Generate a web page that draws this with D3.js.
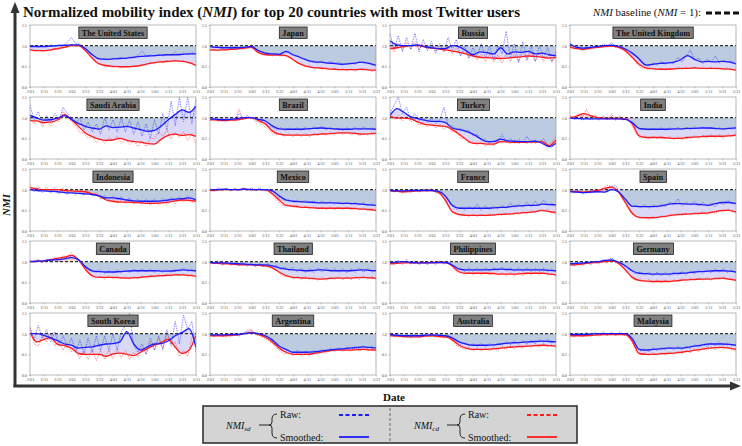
<!DOCTYPE html>
<html><head><meta charset="utf-8">
<script src="https://cdn.jsdelivr.net/npm/d3@7"></script>
<style>body{margin:0;background:#fff}</style>
</head><body><svg id="c" width="742" height="446"></svg>
<script>
const countries = ["The United States","Japan","Russia","The United Kingdom","Saudi Arabia","Brazil","Turkey","India","Indonesia","Mexico","France","Spain","Canada","Thailand","Philippines","Germany","South Korea","Argentina","Australia","Malaysia"];
const dateTicks = ["2/01","2/11","2/21","3/02","3/12","3/22","4/01","4/11","4/21","5/01","5/11","5/21","5/31"];
const tickDays = [0,10,20,30,40,50,60,70,80,90,100,110,120];
const yTicks = [0,0.5,1,1.5];
const smoothDays = [0,5,10,15,20,25,30,35,40,45,50,55,60,65,70,75,80,85,90,95,100,105,110,115,120];
const rawDays = [0,3,6,9,12,15,18,21,24,27,30,33,36,39,42,45,48,51,54,57,60,63,66,69,72,75,78,81,84,87,90,93,96,99,102,105,108,111,114,117,120];

const sdSmooth = [
[.98,.98,.98,.99,1.0,1.01,1.02,1.02,.93,.78,.68,.67,.68,.69,.70,.72,.74,.75,.76,.77,.78,.78,.79,.80,.80],
[.97,.96,.95,.95,.95,.96,.98,.88,.82,.80,.79,.86,.78,.72,.65,.61,.60,.58,.57,.55,.56,.58,.60,.57,.53],
[1.12,1.02,1.0,1.0,1.02,.98,.95,.93,.93,1.0,.97,.88,.78,.85,.83,.8,.95,.8,.85,.84,.86,.8,.82,.78,.76],
[1.04,.96,.94,.96,.98,1.0,1.01,.98,.92,.82,.68,.53,.55,.57,.58,.60,.66,.76,.67,.61,.62,.61,.62,.61,.56],
[1.06,.99,.94,.95,.99,1.05,.96,.86,.79,.75,.72,.8,.76,.77,.79,.75,.71,.67,.69,.8,.95,1.08,1.19,1.13,1.28],
[.97,.96,.95,.96,.98,1.0,1.0,.96,.92,.8,.73,.72,.72,.72,.73,.74,.75,.74,.73,.72,.72,.73,.73,.73,.72],
[1.05,1.22,1.13,1.02,.98,.94,.91,.91,.88,.75,.71,.67,.6,.5,.42,.42,.48,.44,.43,.42,.42,.43,.38,.3,.38],
[.99,.98,.97,.97,.97,.97,.97,.97,.96,.88,.74,.72,.72,.72,.72,.73,.73,.74,.74,.75,.75,.74,.73,.74,.75],
[1.0,.98,.97,.96,.95,.93,.92,.91,.9,.88,.85,.8,.8,.78,.75,.73,.72,.72,.72,.73,.75,.77,.78,.8,.75],
[1.0,1.0,1.01,1.0,1.0,1.01,1.0,1.0,1.0,.97,.85,.75,.72,.71,.7,.69,.68,.68,.68,.67,.67,.66,.65,.63,.62],
[.98,.97,.97,.98,.98,.98,.98,.96,.85,.62,.55,.55,.55,.55,.55,.56,.57,.58,.6,.61,.62,.62,.65,.64,.63],
[.95,.94,.93,.94,.95,.94,1.0,.95,.77,.6,.59,.59,.59,.6,.64,.66,.66,.65,.65,.64,.62,.66,.69,.69,.66],
[1.0,1.01,1.02,1.04,1.05,1.07,1.1,1.05,.88,.78,.76,.75,.75,.76,.77,.78,.78,.78,.78,.77,.77,.78,.8,.79,.78],
[.98,.97,.97,.96,.95,.94,.93,.92,.92,.9,.85,.82,.8,.79,.78,.79,.8,.79,.78,.78,.78,.79,.8,.79,.78],
[.98,.99,1.0,.98,.97,.97,.97,.98,.98,.92,.82,.8,.8,.8,.8,.81,.82,.81,.8,.8,.8,.8,.8,.79,.78],
[.95,.96,.97,.99,1.0,1.03,1.04,.99,.9,.78,.72,.71,.7,.7,.7,.71,.72,.73,.75,.76,.77,.78,.78,.77,.75],
[1.0,1.0,.96,.9,.83,.75,.72,.65,.67,.68,.72,.75,.76,.8,1.05,.75,.6,.68,.75,.76,.83,.95,1.03,1.12,.67],
[.97,.97,.97,.98,.98,1.0,1.02,1.0,.95,.85,.7,.62,.55,.55,.55,.56,.58,.6,.62,.63,.65,.66,.68,.67,.65],
[.98,.96,.95,.95,.95,.96,.97,.96,.95,.9,.8,.75,.72,.72,.72,.73,.75,.77,.78,.79,.8,.81,.82,.81,.8],
[.98,.98,.98,.99,1.0,1.0,1.0,1.0,1.0,.88,.62,.6,.62,.63,.65,.65,.65,.67,.7,.72,.75,.75,.75,.74,.72]
];
const cdSmooth = [
[.90,.88,.88,.90,.93,.96,1.0,1.0,.88,.70,.56,.52,.50,.49,.49,.50,.52,.56,.59,.61,.62,.63,.62,.59,.52],
[.90,.89,.90,.91,.92,.94,.96,.83,.78,.77,.77,.76,.66,.56,.50,.47,.46,.44,.43,.42,.42,.42,.43,.41,.41],
[.93,.95,.98,1.0,1.0,.97,.94,.92,.90,.87,.84,.80,.75,.72,.71,.70,.69,.70,.72,.73,.75,.74,.72,.70,.71],
[.96,.93,.91,.94,.96,.98,.99,.96,.88,.72,.55,.46,.44,.43,.43,.44,.45,.45,.46,.45,.45,.45,.44,.43,.41],
[.93,.92,.88,.89,.95,1.07,.95,.79,.63,.54,.48,.45,.46,.5,.45,.42,.41,.37,.36,.48,.57,.6,.57,.59,.55],
[.95,.94,.93,.94,.95,.98,1.0,.93,.85,.68,.6,.58,.58,.58,.58,.59,.6,.61,.62,.63,.63,.62,.6,.61,.62],
[1.03,.99,.99,.97,.9,.84,.82,.8,.79,.71,.6,.47,.38,.38,.36,.36,.42,.41,.4,.4,.41,.41,.42,.32,.46],
[1.0,1.04,1.1,1.05,1.0,.98,.98,.98,.97,.85,.56,.52,.52,.52,.51,.5,.5,.52,.53,.54,.55,.55,.55,.56,.58],
[1.05,1.02,1.0,1.0,1.0,.98,.97,.96,.95,.9,.85,.75,.72,.7,.7,.69,.68,.67,.67,.68,.7,.73,.75,.74,.72],
[.98,.99,1.0,1.0,1.0,1.01,1.0,1.0,1.0,.9,.75,.62,.6,.58,.57,.56,.55,.55,.55,.55,.55,.54,.53,.52,.5],
[.97,.96,.95,.96,.97,.98,.98,.93,.75,.47,.4,.38,.38,.38,.38,.39,.4,.41,.42,.44,.45,.47,.5,.47,.45],
[.97,.95,.94,.96,.98,1.03,1.06,.95,.69,.43,.33,.32,.32,.34,.36,.39,.4,.41,.42,.43,.44,.47,.5,.5,.46],
[1.0,1.01,1.02,1.05,1.08,1.11,1.15,1.05,.82,.66,.62,.62,.62,.61,.6,.61,.62,.64,.65,.66,.67,.68,.68,.67,.65],
[.97,.96,.95,.94,.93,.92,.92,.91,.9,.85,.75,.66,.62,.61,.6,.59,.58,.59,.6,.6,.6,.61,.62,.61,.6],
[.95,.96,.97,.97,.97,.97,.98,.98,.98,.9,.75,.72,.72,.72,.72,.71,.7,.7,.7,.71,.72,.72,.72,.7,.68],
[.92,.93,.95,.97,.98,1.0,1.02,.96,.8,.62,.55,.53,.52,.52,.52,.53,.55,.56,.57,.58,.58,.59,.6,.58,.55],
[1.03,.8,.86,.9,.74,.71,.65,.52,.5,.5,.5,.45,.51,.53,.5,.47,.55,.64,.72,.79,.87,.67,.52,.6,.95],
[.95,.95,.95,.96,.97,1.0,1.03,.98,.92,.8,.65,.55,.5,.5,.5,.52,.55,.58,.6,.6,.6,.61,.62,.61,.6],
[.95,.94,.93,.92,.92,.94,.95,.93,.92,.85,.72,.65,.62,.62,.62,.63,.65,.67,.68,.69,.7,.71,.72,.71,.7],
[.95,.95,.95,.96,.97,.98,.98,.98,.98,.82,.52,.5,.5,.51,.52,.53,.55,.57,.6,.62,.65,.66,.67,.65,.62]
];
const sdRaw = [
[.97,1.0,.96,.99,.97,1.02,.98,1.03,.99,1.08,1.2,1.05,1.04,.93,.85,.8,.7,.66,.7,.65,.7,.67,.72,.68,.73,.7,.76,.88,.73,.78,.74,.8,.75,.79,.77,.85,.76,.82,.78,.83,.8],
[.99,.95,.97,.94,.96,.93,.97,.94,.97,.95,1.02,.9,.88,.82,.83,.79,.81,.78,.84,.83,.76,.75,.68,.69,.6,.64,.58,.63,.57,.62,.55,.6,.53,.57,.58,.55,.62,.57,.6,.53,.52],
[1.3,.9,1.25,.85,1.2,.9,1.3,.85,1.15,.88,1.1,.82,1.05,.85,1.2,.9,1.15,.75,1.0,.7,.95,.72,1.05,.7,1.0,.65,1.0,.8,1.35,.7,1.05,.6,1.1,.65,1.0,.62,1.0,.7,.95,.6,.85],
[1.08,.95,.98,.9,.97,.93,1.0,.95,1.05,.98,1.08,.96,1.0,.93,.9,.8,.73,.6,.55,.5,.58,.53,.62,.55,.6,.56,.72,.6,.75,.9,.65,.7,.57,.68,.6,.75,.58,.65,.6,.63,.55],
[1.3,.95,1.15,.85,1.05,.9,1.1,.95,1.25,1.1,1.0,.85,1.0,.7,.9,.65,.85,.6,1.0,.7,.95,.65,1.0,.65,.95,.6,.9,.55,.85,.5,.95,.6,1.1,.7,1.4,.8,1.5,.9,1.5,.85,1.45],
[.95,1.0,.94,.98,.93,.97,.95,1.1,.98,1.05,.97,1.0,.9,.88,.8,.76,.7,.76,.69,.75,.7,.76,.69,.77,.7,.78,.72,.8,.7,.77,.7,.75,.68,.76,.7,.77,.69,.78,.7,.76,.7],
[1.1,1.3,1.5,1.1,1.25,.95,1.1,.92,1.0,.88,.98,.85,.95,1.25,.8,.8,.7,.75,.65,.7,.55,.6,.45,.48,.38,.45,.4,.6,.42,.5,.38,.48,.4,.55,.38,.46,.4,.5,.32,.28,.42],
[1.02,.95,1.0,.94,.99,.95,1.0,.94,1.02,.96,1.03,.95,1.02,.94,.97,.85,.75,.7,.75,.69,.75,.7,.76,.69,.76,.7,.77,.7,.77,.71,.78,.72,.78,.72,.77,.71,.77,.7,.76,.71,.77],
[1.02,.95,1.03,.93,1.0,.92,.98,.9,.97,.88,.96,.87,.95,.86,.94,.85,.9,.78,.86,.75,.85,.74,.83,.72,.8,.68,.77,.67,.78,.66,.78,.68,.8,.7,.82,.72,.84,.73,.86,.72,.8],
[1.02,.97,1.05,.98,1.04,.97,1.03,.97,1.05,.98,1.04,.98,1.05,.97,1.0,.95,.85,.78,.73,.76,.7,.75,.69,.74,.68,.73,.67,.72,.66,.71,.65,.7,.65,.7,.64,.69,.64,.68,.62,.66,.6],
[1.0,.95,.99,.94,1.0,.95,1.01,.96,1.0,.97,1.02,.95,.97,.85,.75,.6,.52,.58,.5,.6,.52,.65,.5,.62,.52,.6,.53,.62,.55,.68,.56,.65,.58,.7,.59,.72,.6,.75,.62,.68,.6],
[.97,.92,.98,.9,.96,.92,.98,.93,.97,1.05,1.08,1.1,.9,.8,.66,.58,.62,.56,.64,.55,.63,.57,.65,.58,.7,.62,.78,.6,.7,.62,.72,.6,.7,.6,.68,.58,.7,.63,.75,.65,.68],
[1.02,.98,1.05,.98,1.06,.99,1.08,1.0,1.1,1.05,1.15,1.12,1.0,.9,.8,.76,.74,.8,.72,.79,.72,.8,.73,.8,.74,.82,.75,.82,.75,.81,.74,.8,.74,.8,.74,.82,.76,.84,.76,.82,.76],
[1.0,.95,1.02,.93,1.0,.92,1.0,.91,.99,.9,.98,.89,.97,.88,.96,.86,.92,.8,.88,.78,.86,.75,.84,.74,.83,.73,.84,.74,.85,.75,.84,.74,.83,.73,.83,.74,.84,.74,.85,.74,.8],
[1.02,.95,1.03,.96,1.05,.95,1.02,.93,1.0,.93,1.0,.93,1.02,.94,1.01,.9,.8,.85,.76,.85,.76,.85,.76,.86,.76,.86,.77,.88,.77,.86,.76,.85,.76,.85,.76,.84,.76,.84,.75,.83,.75],
[.97,.92,.99,.93,1.0,.95,1.02,.97,1.05,1.0,1.1,1.0,.95,.9,.82,.76,.7,.76,.67,.75,.66,.75,.66,.75,.66,.76,.67,.77,.68,.78,.7,.8,.72,.8,.73,.82,.74,.83,.74,.8,.72],
[1.15,.85,1.2,.9,1.1,.8,1.05,.7,.95,.65,.9,.55,.85,.5,.9,.55,.95,.6,.95,.6,1.0,.6,1.05,1.2,1.5,.7,.55,.75,.5,.9,.6,.95,.6,1.1,.7,1.3,.75,1.45,1.1,1.3,.55],
[1.0,.94,.99,.95,1.0,.95,1.0,.96,1.02,1.05,1.08,.98,.97,.92,.88,.82,.72,.62,.56,.6,.52,.6,.52,.58,.53,.6,.54,.62,.56,.64,.58,.66,.6,.68,.62,.69,.63,.7,.64,.7,.62],
[1.02,.94,1.0,.93,.98,.92,.98,.92,.99,.93,1.0,.93,1.0,.92,.98,.86,.8,.74,.78,.7,.76,.69,.76,.69,.76,.7,.77,.72,.8,.73,.82,.75,.83,.75,.84,.76,.85,.78,.86,.78,.82],
[1.02,.95,1.02,.95,1.03,.96,1.03,.97,1.05,.97,1.04,.97,1.04,.97,1.02,.85,.65,.58,.63,.56,.66,.58,.67,.6,.68,.61,.7,.61,.7,.63,.73,.66,.75,.68,.78,.7,.8,.71,.78,.7,.74]
];
const cdRaw = [
[.92,.86,.9,.85,.9,.87,.93,.9,.97,.96,1.03,.98,1.0,.9,.8,.68,.57,.56,.49,.53,.47,.51,.46,.5,.47,.52,.5,.55,.53,.6,.56,.63,.58,.64,.6,.66,.61,.64,.58,.6,.5],
[.88,.92,.87,.91,.88,.93,.9,.94,.91,.96,.95,.88,.82,.78,.8,.75,.79,.74,.78,.7,.68,.57,.56,.48,.52,.44,.48,.43,.47,.41,.46,.4,.44,.39,.44,.38,.43,.41,.44,.38,.4],
[.98,.85,1.05,.9,1.08,.92,1.1,.9,1.05,.9,1.02,.86,1.0,.85,.98,.8,.95,.76,.9,.7,.82,.65,.8,.62,.8,.6,.78,.58,.8,.62,.82,.6,.85,.65,.85,.62,.83,.62,.8,.62,.75],
[.98,.92,.94,.88,.94,.9,.97,.95,1.0,.97,1.01,.95,.96,.88,.8,.7,.58,.47,.44,.43,.46,.42,.45,.41,.46,.42,.47,.43,.48,.44,.49,.43,.47,.43,.48,.43,.47,.42,.46,.42,.4],
[.98,.85,1.0,.78,.92,.8,1.0,.9,1.15,1.0,.9,.8,.65,.62,.5,.55,.4,.5,.38,.52,.44,.55,.38,.48,.35,.46,.3,.42,.3,.5,.5,.65,.55,.7,.48,.65,.52,.66,.45,.62,.35],
[.93,.98,.9,.96,.91,.97,.92,1.2,.95,1.05,.98,.92,.88,.8,.72,.63,.58,.62,.55,.62,.54,.61,.55,.62,.54,.63,.56,.64,.57,.66,.58,.67,.6,.66,.58,.64,.56,.63,.58,.65,.6],
[1.1,.95,1.05,.92,1.02,.9,.95,.82,.88,.78,.86,.75,.85,.72,.8,.66,.68,.5,.5,.38,.42,.33,.42,.3,.4,.32,.45,.38,.47,.37,.45,.36,.44,.37,.46,.38,.45,.4,.35,.4,.55],
[1.05,.98,1.1,1.02,1.2,1.0,1.08,.95,1.05,.95,1.1,.93,1.05,.95,.98,.8,.6,.5,.56,.48,.55,.49,.56,.48,.55,.47,.54,.46,.55,.48,.57,.5,.58,.5,.59,.51,.58,.5,.6,.53,.6],
[1.1,1.0,1.08,.98,1.06,.97,1.05,.95,1.04,.94,1.02,.93,1.01,.92,1.0,.88,.92,.78,.8,.7,.77,.68,.75,.66,.74,.65,.73,.64,.72,.62,.71,.63,.72,.64,.74,.66,.77,.7,.78,.68,.76],
[1.0,.95,1.02,.97,1.03,.97,1.04,.97,1.05,.98,1.04,.97,1.02,.98,.96,.88,.75,.65,.6,.64,.57,.62,.55,.6,.54,.59,.53,.58,.52,.58,.52,.58,.52,.58,.52,.57,.51,.56,.5,.54,.48],
[.99,.94,.98,.92,.97,.93,.98,.94,1.0,.96,1.0,.93,.9,.78,.6,.45,.4,.36,.4,.35,.41,.35,.41,.36,.42,.36,.42,.38,.44,.38,.45,.4,.47,.42,.5,.44,.52,.48,.53,.44,.42],
[1.0,.93,.98,.92,.97,.92,1.0,.97,1.05,1.1,1.08,1.0,.88,.72,.55,.4,.35,.3,.34,.29,.35,.31,.37,.33,.4,.36,.43,.37,.44,.38,.45,.39,.46,.4,.48,.42,.5,.45,.54,.47,.44],
[1.03,.97,1.05,.98,1.06,1.0,1.1,1.05,1.15,1.1,1.22,1.08,.98,.85,.72,.63,.6,.65,.58,.66,.58,.65,.58,.64,.57,.64,.58,.66,.6,.67,.62,.69,.63,.7,.64,.71,.65,.71,.63,.69,.62],
[1.0,.94,1.0,.92,.99,.91,.98,.9,.97,.89,.96,.88,.95,.87,.94,.85,.78,.7,.63,.66,.58,.65,.57,.64,.56,.63,.55,.62,.55,.63,.56,.64,.56,.64,.56,.64,.57,.65,.58,.65,.57],
[.98,.92,1.0,.93,1.01,.94,1.0,.94,1.0,.94,1.02,.95,1.01,.95,1.0,.87,.75,.77,.68,.76,.68,.76,.68,.76,.68,.75,.67,.74,.66,.74,.66,.74,.66,.75,.68,.76,.68,.76,.67,.72,.65],
[.95,.89,.96,.9,.98,.92,1.0,.94,1.02,.97,1.06,.98,.93,.85,.72,.6,.54,.58,.5,.57,.49,.56,.49,.56,.49,.57,.51,.59,.52,.6,.54,.61,.55,.62,.55,.62,.56,.63,.56,.6,.52],
[1.15,.75,.7,.95,.8,1.0,.7,.8,.6,.78,.55,.65,.4,.6,.38,.62,.35,.6,.38,.6,.4,.62,.42,.6,.38,.55,.42,.66,.5,.8,.6,.9,.65,1.0,.75,.8,.45,.6,.45,.9,1.05],
[.98,.92,.98,.92,.97,.93,.98,.94,1.0,1.08,1.1,.97,.95,.9,.84,.76,.66,.57,.5,.55,.47,.53,.47,.53,.47,.54,.5,.58,.53,.62,.56,.64,.57,.64,.57,.65,.58,.66,.58,.64,.57],
[.98,.92,.97,.9,.96,.89,.95,.9,.97,.92,.98,.91,.96,.89,.95,.82,.72,.66,.62,.66,.58,.65,.58,.65,.58,.66,.6,.68,.62,.7,.64,.72,.65,.73,.66,.73,.67,.75,.68,.74,.66],
[.98,.92,.98,.92,.99,.93,.99,.94,1.0,.95,1.01,.95,1.01,.95,1.0,.78,.56,.5,.54,.47,.54,.48,.55,.49,.56,.5,.58,.51,.6,.53,.64,.57,.66,.59,.69,.61,.7,.63,.7,.62,.58]
];

const svg = d3.select("#c");
const defs = svg.append("defs");
const SERIF = "'Liberation Serif','DejaVu Serif',serif";
const PW = 166, PH = 62;

countries.forEach((name, i) => {
  const r = Math.floor(i / 4), c = i % 4;
  const x0 = 30 + c * 180, y0 = 25 + r * 72;
  const x = d3.scaleLinear().domain([0, 120]).range([x0, x0 + PW]);
  const y = d3.scaleLinear().domain([0, 1.5]).range([y0 + PH, y0]);
  const g = svg.append("g");
  g.append("rect").attr("x", x0).attr("y", y0).attr("width", PW).attr("height", PH).attr("fill", "#fff");

  const sd = smoothDays.map((d, k) => ({ d, s: sdSmooth[i][k], c: cdSmooth[i][k] }));
  const curve = d3.curveMonotoneX;

  const cp = (id) => defs.append("clipPath").attr("id", id + i);
  cp("panel").append("rect").attr("x", x0).attr("y", y0).attr("width", PW).attr("height", PH);
  cp("below1").append("rect").attr("x", x0).attr("y", y(1)).attr("width", PW).attr("height", y(0) - y(1));
  cp("above1").append("rect").attr("x", x0).attr("y", y0).attr("width", PW).attr("height", y(1) - y0);
  cp("belowSd").append("path").attr("d", d3.area().curve(curve).x(d => x(d.d)).y0(y(0)).y1(d => y(d.s))(sd));
  cp("aboveSd").append("path").attr("d", d3.area().curve(curve).x(d => x(d.d)).y0(y0).y1(d => y(d.s))(sd));

  const fg = g.append("g").attr("clip-path", `url(#panel${i})`);
  const a1 = d3.area().curve(curve).x(d => x(d.d)).y0(y(1)).y1(d => y(d.s));
  fg.append("path").attr("d", a1(sd)).attr("fill", "#bccbe0").attr("clip-path", `url(#below1${i})`);
  fg.append("path").attr("d", a1(sd)).attr("fill", "#f7d9c8").attr("clip-path", `url(#above1${i})`);
  const a2 = d3.area().curve(curve).x(d => x(d.d)).y0(d => y(d.s)).y1(d => y(d.c));
  fg.append("path").attr("d", a2(sd)).attr("fill", "#d9d9f7").attr("clip-path", `url(#belowSd${i})`);
  fg.append("path").attr("d", a2(sd)).attr("fill", "#f6d2d8").attr("clip-path", `url(#aboveSd${i})`);

  const rl = d3.line().x((v, k) => x(rawDays[k])).y(v => y(v));
  fg.append("path").attr("d", rl(cdRaw[i])).attr("fill", "none").attr("stroke", "#ff4848")
    .attr("stroke-width", 0.8).attr("stroke-dasharray", "1.5,1").attr("opacity", 0.8);
  fg.append("path").attr("d", rl(sdRaw[i])).attr("fill", "none").attr("stroke", "#4646ff")
    .attr("stroke-width", 0.8).attr("stroke-dasharray", "1.5,1").attr("opacity", 0.8);

  fg.append("line").attr("x1", x0).attr("x2", x0 + PW).attr("y1", y(1)).attr("y2", y(1))
    .attr("stroke", "#333").attr("stroke-width", 1.3).attr("stroke-dasharray", "3,2");

  const sl = (key) => d3.line().curve(curve).x(d => x(d.d)).y(d => y(d[key]));
  fg.append("path").attr("d", sl("c")(sd)).attr("fill", "none").attr("stroke", "#ff1c1c").attr("stroke-width", 1.3);
  fg.append("path").attr("d", sl("s")(sd)).attr("fill", "none").attr("stroke", "#1c1cff").attr("stroke-width", 1.3);

  g.append("rect").attr("x", x0).attr("y", y0).attr("width", PW).attr("height", PH)
    .attr("fill", "none").attr("stroke", "#8a8a8a").attr("stroke-width", 0.6);

  const ax = g.append("g").attr("transform", `translate(0,${y0 + PH})`)
    .call(d3.axisBottom(x).tickValues(tickDays).tickFormat((d, k) => dateTicks[k]).tickSize(1.5).tickPadding(1));
  const ay = g.append("g").attr("transform", `translate(${x0},0)`)
    .call(d3.axisLeft(y).tickValues(yTicks).tickFormat(d3.format(".1f")).tickSize(1.5).tickPadding(1.5));
  [ax, ay].forEach(a => {
    a.attr("font-size", 4.3).attr("font-family", SERIF);
    a.select(".domain").remove();
    a.selectAll("line").attr("stroke", "#888").attr("stroke-width", 0.5);
    a.selectAll("text").attr("fill", "#555");
  });

  const lab = g.append("text").attr("x", x0 + PW / 2).attr("y", y0 + 10.5)
    .attr("text-anchor", "middle").attr("font-family", SERIF).attr("font-weight", "bold")
    .attr("font-size", 8.2).attr("fill", "#111").text(name);
  const bb = lab.node().getBBox();
  g.insert("rect", () => lab.node()).attr("x", bb.x - 3).attr("y", y0 + 2).attr("width", bb.width + 6).attr("height", 11.5)
    .attr("fill", "#808080").attr("stroke", "#222").attr("stroke-width", 0.8);
});

const AX = "#333";
svg.append("line").attr("x1", 15).attr("y1", 387).attr("x2", 15).attr("y2", 12).attr("stroke", AX).attr("stroke-width", 3);
svg.append("path").attr("d", "M15,2 L10.5,13 L19.5,13 Z").attr("fill", AX);
svg.append("line").attr("x1", 13.5).attr("y1", 386).attr("x2", 731).attr("y2", 386).attr("stroke", AX).attr("stroke-width", 3);
svg.append("path").attr("d", "M741,386 L730,381.5 L730,390.5 Z").attr("fill", AX);

svg.append("text").attr("x", 23).attr("y", 16.5).attr("font-family", SERIF).attr("font-weight", "bold")
  .attr("font-size", 15).attr("textLength", 497).attr("lengthAdjust", "spacingAndGlyphs").attr("fill", "#111")
  .call(t => {
    t.append("tspan").text("Normalized mobility index (");
    t.append("tspan").attr("font-style", "italic").text("NMI");
    t.append("tspan").text(") for top 20 countries with most Twitter users");
  });

svg.append("text").attr("x", 593).attr("y", 16).attr("font-family", SERIF).attr("font-size", 10).attr("fill", "#111")
  .attr("textLength", 108).attr("lengthAdjust", "spacingAndGlyphs")
  .call(t => {
    t.append("tspan").attr("font-style", "italic").text("NMI");
    t.append("tspan").text(" baseline (");
    t.append("tspan").attr("font-style", "italic").text("NMI");
    t.append("tspan").text(" = 1):");
  });
svg.append("line").attr("x1", 706).attr("x2", 740).attr("y1", 13).attr("y2", 13)
  .attr("stroke", "#111").attr("stroke-width", 3).attr("stroke-dasharray", "6,3");

svg.append("text").attr("transform", "translate(10,205) rotate(-90)").attr("text-anchor", "middle")
  .attr("font-family", SERIF).attr("font-weight", "bold").attr("font-style", "italic").attr("font-size", 11)
  .attr("fill", "#111").text("NMI");
svg.append("text").attr("x", 394).attr("y", 401).attr("text-anchor", "middle")
  .attr("font-family", SERIF).attr("font-weight", "bold").attr("font-size", 11).attr("fill", "#111").text("Date");

const lg = svg.append("g");
lg.append("rect").attr("x", 203).attr("y", 406).attr("width", 374).attr("height", 37)
  .attr("fill", "#d4d4d4").attr("stroke", "#333").attr("stroke-width", 1.6);
lg.append("line").attr("x1", 390).attr("x2", 390).attr("y1", 408).attr("y2", 441)
  .attr("stroke", "#666").attr("stroke-width", 1).attr("stroke-dasharray", "3,2");
const legendItems = [
  { x: 226, sub: "sd", color: "#1c1cff" },
  { x: 414, sub: "cd", color: "#ff1c1c" }
];
legendItems.forEach(it => {
  const t = lg.append("text").attr("x", it.x).attr("y", 429).attr("font-family", SERIF).attr("font-size", 10)
    .attr("font-style", "italic").attr("fill", "#111");
  t.append("tspan").text("NMI");
  t.append("tspan").attr("font-size", 7).attr("dy", 2).text(it.sub);
  const bx = it.x + 33;
  lg.append("line").attr("x1", bx).attr("x2", bx + 10).attr("y1", 425).attr("y2", 425).attr("stroke", "#111").attr("stroke-width", 0.9);
  lg.append("path").attr("d", `M${bx + 18},414 Q${bx + 13},414 ${bx + 13},419 L${bx + 13},422 Q${bx + 13},425 ${bx + 10},425 Q${bx + 13},425 ${bx + 13},428 L${bx + 13},433 Q${bx + 13},438 ${bx + 18},438`)
    .attr("fill", "none").attr("stroke", "#111").attr("stroke-width", 0.9);
  lg.append("text").attr("x", bx + 21).attr("y", 418).attr("font-family", SERIF).attr("font-size", 10).attr("fill", "#111").text("Raw:");
  lg.append("text").attr("x", bx + 21).attr("y", 441).attr("font-family", SERIF).attr("font-size", 10).attr("fill", "#111").text("Smoothed:");
  lg.append("line").attr("x1", bx + 80).attr("x2", bx + 110).attr("y1", 415).attr("y2", 415)
    .attr("stroke", it.color).attr("stroke-width", 1.8).attr("stroke-dasharray", "4,2.5");
  lg.append("line").attr("x1", bx + 80).attr("x2", bx + 110).attr("y1", 437).attr("y2", 437)
    .attr("stroke", it.color).attr("stroke-width", 1.8);
});
</script>
</body></html>
